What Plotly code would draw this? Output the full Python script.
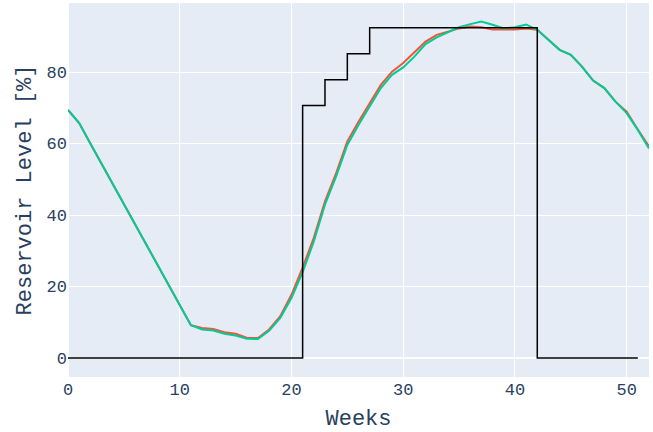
import plotly.graph_objects as go

weeks = list(range(53))

level_a = [69.4, 65.7, 60.0, 54.4, 48.7, 43.1, 37.4, 31.8, 26.1, 20.5,
           14.8, 9.2, 8.4, 8.1, 7.2, 6.8, 5.7, 5.6, 8.0, 11.7,
           17.7, 25.3, 33.6, 43.8, 51.7, 60.6, 66.1, 71.3, 76.4, 80.1,
           82.5, 85.5, 88.5, 90.4, 91.3, 92.2, 92.7, 92.5, 91.9, 91.8,
           91.9, 92.2, 91.8, 89.0, 86.2, 84.8, 81.5, 77.6, 75.5, 71.7,
           68.9, 63.9, 59.2]

level_b = [69.4, 65.7, 60.0, 54.4, 48.7, 43.1, 37.4, 31.8, 26.1, 20.5,
           14.8, 9.2, 8.0, 7.7, 6.8, 6.3, 5.4, 5.3, 7.6, 11.2,
           16.8, 24.0, 32.6, 42.9, 50.8, 59.6, 65.2, 70.3, 75.5, 79.2,
           81.3, 84.3, 87.8, 89.7, 91.0, 92.5, 93.4, 94.1, 93.2, 92.2,
           92.5, 93.3, 91.8, 89.0, 86.2, 84.8, 81.5, 77.6, 75.5, 71.7,
           68.5, 63.8, 58.6]

step_weeks = list(range(52))
step_level = [0] * 21 + [70.6, 70.6, 77.8, 77.8, 85.1, 85.1] + [92.4] * 15 + [0] * 10

fig = go.Figure()
fig.add_trace(go.Scatter(x=weeks, y=level_a, mode="lines",
                         line=dict(color="#EF553B", width=2), showlegend=False))
fig.add_trace(go.Scatter(x=weeks, y=level_b, mode="lines",
                         line=dict(color="#00CC96", width=2), showlegend=False))
fig.add_trace(go.Scatter(x=step_weeks, y=step_level, mode="lines",
                         line=dict(color="black", width=1.5, shape="hv"), showlegend=False))

fig.update_layout(
    template="plotly",
    width=653, height=432,
    margin=dict(l=68, r=4, t=3, b=55),
    font=dict(family="Courier New, Liberation Mono, monospace", size=17),
    xaxis=dict(title=dict(text="Weeks", font=dict(size=22), standoff=14), range=[0, 52],
               tickvals=[0, 10, 20, 30, 40, 50], automargin=True),
    yaxis=dict(title=dict(text="Reservoir Level [%]", font=dict(size=22), standoff=8),
               range=[-5.3, 99.3], tickvals=[0, 20, 40, 60, 80], automargin=True),
    showlegend=False,
)

fig.write_html("out.html", config={"displayModeBar": False},
               post_script="document.body.style.margin='0px';")
